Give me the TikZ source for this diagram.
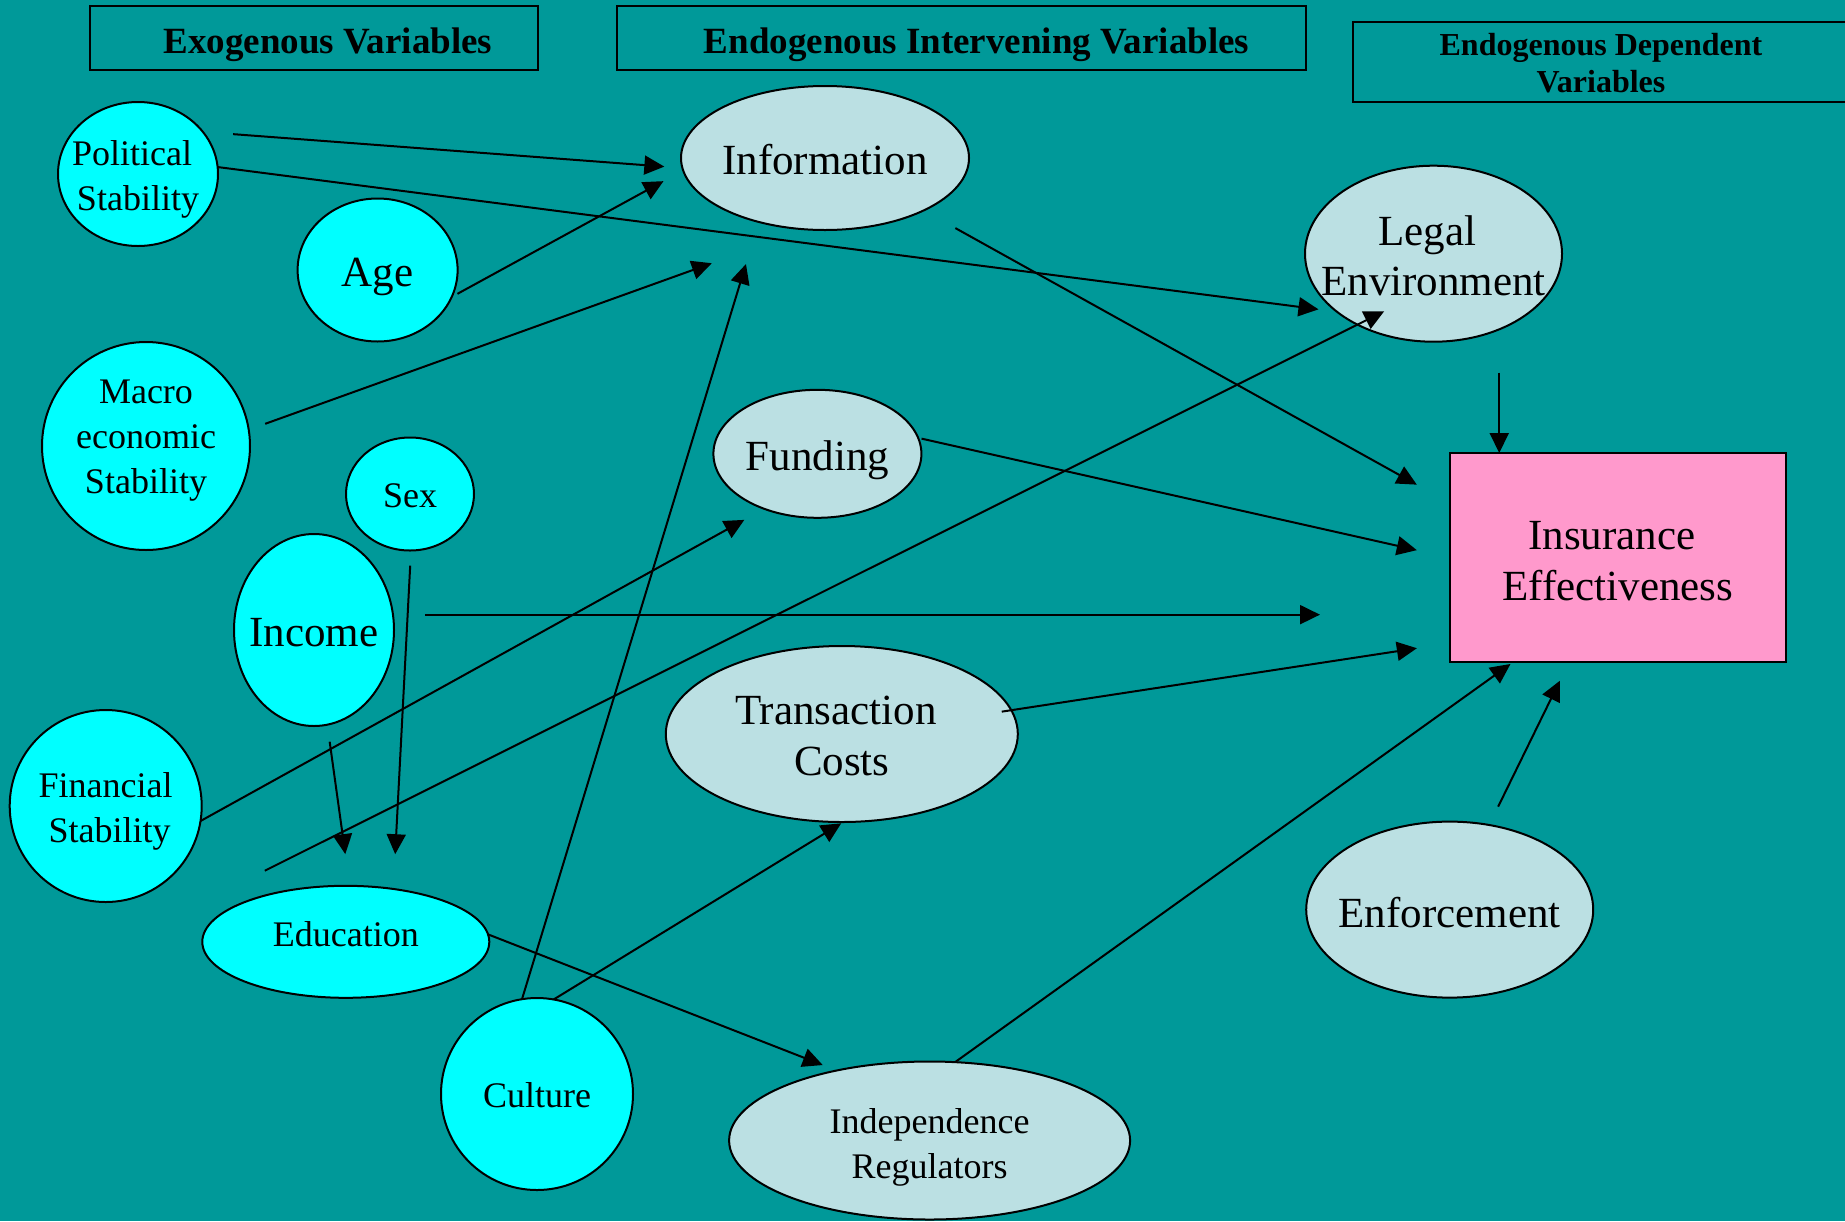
\documentclass[tikz,border=0pt]{standalone}
\usepackage{fontspec}
\setmainfont{Liberation Serif}
\usetikzlibrary{arrows.meta,shapes.geometric}
\definecolor{bgteal}{RGB}{0,153,153}
\definecolor{exocyan}{RGB}{0,255,255}
\definecolor{endolight}{RGB}{187,224,227}
\definecolor{effpink}{RGB}{255,153,204}
\newcommand{\topstrut}[1]{\rule{0pt}{#1}}
\newcommand{\botstrut}[1]{\rule[-#1]{0pt}{#1}}
\begin{document}
\begin{tikzpicture}[x=0.5pt,y=-0.5pt,
  every node/.style={outer sep=0pt},
  varshape/.style={ellipse, draw=black, line width=1pt, inner xsep=-60pt, inner ysep=-30pt, align=center},
  exo/.style={varshape, fill=exocyan},
  endo/.style={varshape, fill=endolight},
  bigtext/.style={font=\fontsize{21.5pt}{25.5pt}\selectfont},
  smalltext/.style={font=\fontsize{18pt}{22.5pt}\selectfont},
  onelinebig/.style={text height=16.3pt, text depth=0pt},
  onelinesmall/.style={text height=13.7pt, text depth=0pt},
  headbox/.style={draw=black, line width=0.9pt, inner sep=0pt},
  header/.style={headbox, font=\bfseries\fontsize{18.5pt}{22pt}\selectfont, text height=15pt, text depth=0pt},
  arr/.style={line width=1pt, -{Triangle[length=10pt,width=9.5pt]}}
]
\useasboundingbox (0,0) rectangle (1845,1221);
\fill[bgteal] (0,0) rectangle (1845,1221);

% headers
\node[header, minimum width=224pt, minimum height=32.3pt] (hexo) at (313.9,38) {\hspace*{14pt}Exogenous Variables};
\node[header, minimum width=344.15pt, minimum height=32.3pt] (hend) at (961.5,38) {\hspace*{15pt}Endogenous Intervening Variables};
\node[headbox, inner ysep=-10pt, align=center, font=\bfseries\fontsize{16pt}{18.3pt}\selectfont, minimum width=248pt, minimum height=40pt] (hdep) at (1601,62) {\topstrut{20pt}Endogenous Dependent\\Variables\botstrut{8pt}};

% exogenous variables
\node[exo, smalltext, minimum width=80pt, minimum height=72pt] (pol) at (138,174) {\topstrut{22.2pt}Political\hspace*{6pt}\\Stability\botstrut{8pt}};
\node[exo, bigtext, onelinebig, minimum width=80pt, minimum height=71.5pt] (age) at (377.6,270) {Age};
\node[exo, smalltext, minimum width=104pt, minimum height=104pt] (mac) at (146,446) {\topstrut{14pt}Macro\\economic\\Stability\botstrut{12pt}};
\node[exo, smalltext, onelinesmall, minimum width=64pt, minimum height=56.5pt] (sex) at (410,494) {Sex};
\node[exo, bigtext, onelinebig, minimum width=80pt, minimum height=96pt] (inc) at (314,630) {Income};
\node[exo, smalltext, minimum width=96pt, minimum height=96pt] (fin) at (105.7,806) {\topstrut{22.2pt}Financial\\\hspace*{4pt}Stability\botstrut{8pt}};
\node[exo, smalltext, text height=11.9pt, text depth=6.8pt, minimum width=143.5pt, minimum height=56pt] (edu) at (345.8,941.8) {Education};
\node[exo, smalltext, onelinesmall, minimum width=96pt, minimum height=96pt] (cul) at (537,1094) {Culture};

% endogenous intervening variables
\node[endo, bigtext, onelinebig, minimum width=144pt, minimum height=72pt] (info) at (825,158) {Information};
\node[endo, bigtext, onelinebig, minimum width=104pt, minimum height=64pt] (fund) at (817.4,453.8) {Funding};
\node[endo, bigtext, minimum width=176pt, minimum height=88pt] (tc) at (841.8,734) {\topstrut{23.5pt}Transaction\hspace*{6pt}\\Costs\botstrut{8pt}};
\node[endo, font=\fontsize{18pt}{22.35pt}\selectfont, minimum width=200.5pt, minimum height=79pt] (ir) at (929.6,1140.5) {\topstrut{23.15pt}Independence\\Regulators\botstrut{8pt}};

% dependent variables
\node[endo, font=\fontsize{21.5pt}{25pt}\selectfont, minimum width=128.5pt, minimum height=88pt] (legal) at (1433.5,253.7) {\topstrut{24.3pt}Legal\hspace*{6pt}\\Environment\botstrut{8pt}};
\node[endo, bigtext, text height=18.2pt, text depth=0pt, minimum width=143.5pt, minimum height=88pt] (enf) at (1449.7,909.6) {Enforcement};
\node[draw=black, line width=1pt, fill=effpink, bigtext, align=center, inner sep=0pt, minimum width=168.25pt, minimum height=104.5pt] (ins) at (1617.75,557.5) {\topstrut{25pt}Insurance\hspace*{6pt}\\Effectiveness\botstrut{8pt}};

\coordinate (edustart) at (264.8,870.7);

% connectors
\draw[arr, shorten <=15.15pt, shorten >=9.05pt] (pol.33.2) -- (info.184.05);
\draw[arr, shorten >=9.3pt] (pol.5.2) -- (legal.211.9);
\draw[arr, shorten <=3.3pt, shorten >=11.2pt] (age.-20.1) -- (info.185.95);
\draw[arr, shorten <=8.75pt, shorten >=50pt] (mac.9.85) -- (info.255.7);
\draw[arr, shorten >=22pt] (cul.99) -- (info.224);
\draw[arr, shorten <=18.15pt, shorten >=18.7pt] (info.-28.9) -- (ins.162.6);
\draw[arr, shorten <=1.75pt, shorten >=16.75pt] (fund.9.2) -- (ins.180.3);
\draw[arr, shorten <=16pt, shorten >=64.75pt] (inc.11.5) -- (inc.11.5 -| ins.west);
\draw[arr, shorten <=-4.8pt, shorten >=16.5pt] (tc.8.56) -- (ins.207.06);
\draw[arr, shorten >=11.4pt] (fin.-9.3) -- (fund.226.2);
\draw[arr, shorten >=-14.95pt] (edustart) -- (legal.223.5);
\draw[arr, shorten <=8.6pt, shorten >=16pt] (inc.-82) -- (edu.86.9);
\draw[arr, shorten <=7.6pt, shorten >=17.4pt] (sex.-89.6) -- (edu.48.9);
\draw[arr, shorten >=7.5pt] (edu.3.1) -- (ir.143);
\draw[arr, shorten >=1.25pt] (cul.80.1) -- (tc.-89.3);
\draw[arr, shorten >=1.7pt] (ir.72.2) -- (ins.225.6);
\draw[arr, shorten <=10.2pt, shorten >=10.45pt] (enf.65.1) -- (ins.245.4);
\draw[arr, shorten <=21.6pt] (legal.-49.7) -- (legal.-49.7 |- ins.north);
\end{tikzpicture}
\end{document}
